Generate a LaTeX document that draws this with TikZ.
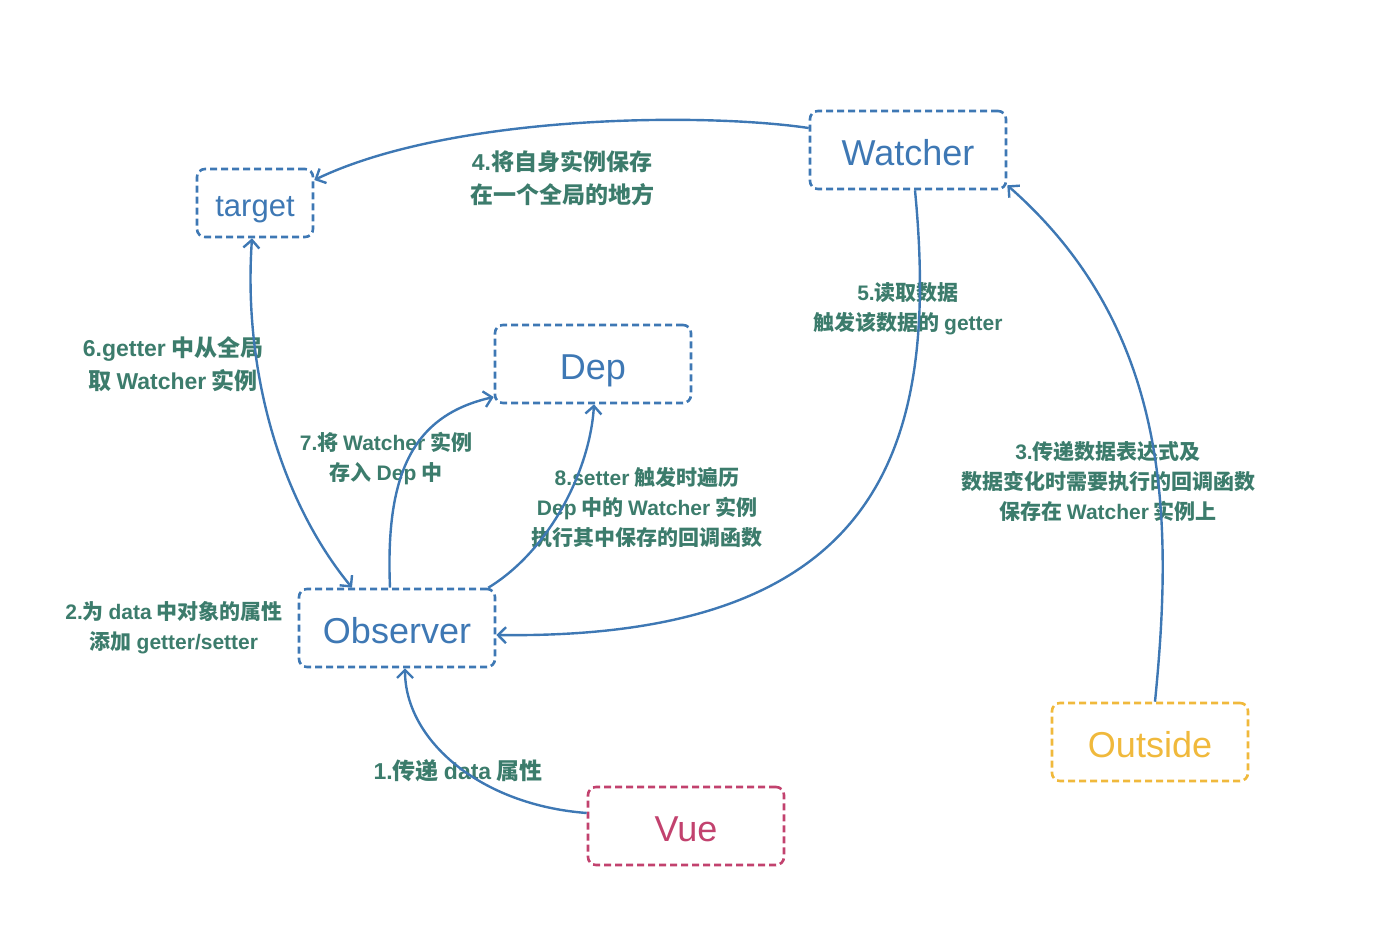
\documentclass[tikz,border=0pt]{standalone}
\usepackage{fontspec}
\usepackage{tikz}
\usetikzlibrary{arrows.meta}
\newfontfamily\cjk{Noto Sans CJK SC}
\newfontfamily\boxfont{Liberation Sans}
\newcommand\en[1]{{\boxfont\bfseries #1}}
\definecolor{lineblue}{RGB}{62,120,180}
\definecolor{labgreen}{RGB}{60,124,108}
\definecolor{vuered}{RGB}{194,66,110}
\definecolor{outyellow}{RGB}{240,185,60}

\begin{document}
\begin{tikzpicture}[x=0.5pt,y=-0.5pt,line width=1.2pt,>={Straight Barb[length=4pt,width=8pt]}]
	\tikzstyle{box}=[draw=lineblue,text=lineblue,dash pattern=on 3.5pt off 2pt,
	line width=1.3pt,rounded corners=4pt,
	minimum width=98pt,minimum height=39pt,
	text height=15.4pt,text depth=0pt,
	font=\boxfont\fontsize{18}{20}\selectfont
	]
	\tikzstyle{vbox}=[box, draw=vuered, text=vuered];
	\tikzstyle{obox}=[box, draw=outyellow, text=outyellow];
	\tikzstyle{lab}=[text=labgreen,align=center,inner sep=0pt,
	font=\cjk\bfseries\fontsize{10.5}{15}\selectfont];
	\tikzstyle{biglab}=[lab, font=\cjk\bfseries\fontsize{11.5}{16.5}\selectfont];
	\tikzstyle{arr}=[draw=lineblue,->];

\useasboundingbox (0,0) rectangle (1382,942);

\node[box,minimum width=58pt,minimum height=34pt,text height=13pt,text depth=0pt,
	font=\boxfont\fontsize{15.5}{18}\selectfont](tg) at (255,203){target};
\node[box](wt) at (908,150){Watcher};
\node[box](dep) at (593,364){Dep};
\node[box](obs) at (397,628){Observer};
\node[vbox](vue) at (686,826){Vue};
\node[obox](out) at (1150,742){Outside};

\node[biglab](l1) at (458,771){\en{1.}传递 \en{data} 属性};
\node[lab](l2) at (174,628){\en{2.}为 \en{data} 中对象的属性\\添加 \en{getter/setter}};
\node[lab](l3) at (1108,481){\en{3.}传递数据表达式及\\数据变化时需要执行的回调函数\\保存在 \en{Watcher} 实例上};
\node[biglab](l4) at (562,178){\en{4.}将自身实例保存\\在一个全局的地方};
\node[lab](l5) at (908,309){\en{5.}读取数据\\触发该数据的 \en{getter}};
\node[biglab](l6) at (173,364){\en{6.getter} 中从全局\\取 \en{Watcher} 实例};
\node[lab](l7) at (386,459){\en{7.}将 \en{Watcher} 实例\\存入 \en{Dep} 中};
\node[lab](l8) at (647,508){\en{8.setter} 触发时遍历\\\en{Dep} 中的 \en{Watcher} 实例\\执行其中保存的回调函数};

\draw[arr] ([yshift=6.5pt]vue.west) .. controls (480,805) and (405,740) .. ([xshift=4pt]obs.south);
\draw[arr] ([yshift=11pt]wt.west) .. controls (700,112) and (450,115) .. ([yshift=11.5pt]tg.east);
\draw[arr] ([xshift=2.5pt]out.north) .. controls (1173,520) and (1172,330) .. ([yshift=2.5pt]wt.south east);
\draw[arr] ([xshift=3.5pt]wt.south) .. controls (940,450) and (880,640) .. ([yshift=-3.5pt]obs.east);
\draw[arr,<->] ([xshift=-1.5pt]tg.south) .. controls (243,370) and (280,500) .. ([xshift=-22.5pt]obs.north);
\draw[arr] ([xshift=-3.5pt]obs.north) .. controls (385,470) and (415,415) .. ([yshift=-16.5pt]dep.west);
\draw[arr] ([xshift=-4pt]obs.north east) .. controls (550,550) and (590,470) .. ([xshift=0.5pt]dep.south);

\end{tikzpicture}
\end{document}
